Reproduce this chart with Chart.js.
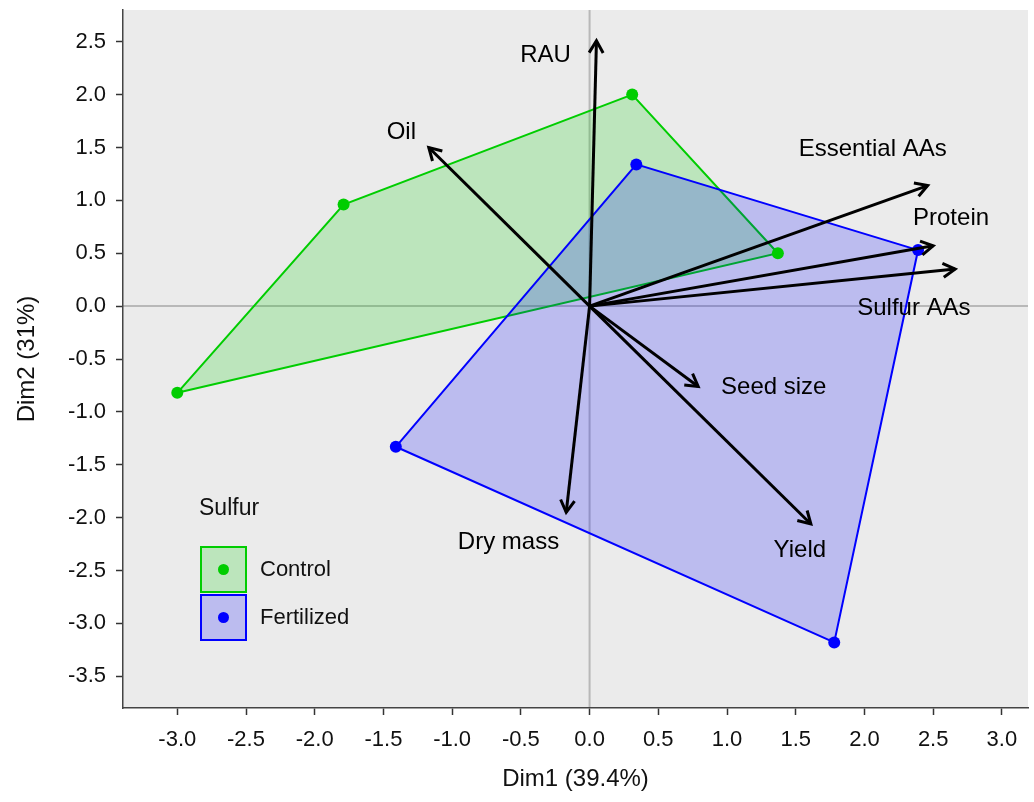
<!DOCTYPE html>
<html><head><meta charset="utf-8">
<script src="https://cdn.jsdelivr.net/npm/chart.js@4.4.1/dist/chart.umd.min.js"></script>
<style>html,body{margin:0;padding:0;background:#fff}#wrap{width:1034px;height:802px}</style>
</head><body><div id="wrap"><canvas id="c" width="1034" height="802"></canvas></div>
<script>
// ---- data ----
const controlX = [-3.00, -1.79, 0.31, 1.37];
const controlY = [-0.82, 0.96, 2.00, 0.50];
const fertX = [-1.41, 0.34, 2.39, 1.78];
const fertY = [-1.33, 1.34, 0.53, -3.18];
const varNames = ['RAU', 'Oil', 'Essential AAs', 'Protein', 'Sulfur AAs', 'Seed size', 'Yield', 'Dry mass'];
const varX = [0.05, -1.17, 2.46, 2.50, 2.66, 0.79, 1.61, -0.17];
const varY = [2.51, 1.50, 1.14, 0.57, 0.35, -0.76, -2.06, -1.95];
const labelX = [-0.32, -1.37, 2.06, 2.63, 2.36, 1.34, 1.53, -0.59];
const labelY = [2.37, 1.64, 1.48, 0.83, -0.02, -0.77, -2.31, -2.23];
const xTicks = [-3.0, -2.5, -2.0, -1.5, -1.0, -0.5, 0.0, 0.5, 1.0, 1.5, 2.0, 2.5, 3.0];
const yTicks = [-3.5, -3.0, -2.5, -2.0, -1.5, -1.0, -0.5, 0.0, 0.5, 1.0, 1.5, 2.0, 2.5];
const groupNames = ['Control', 'Fertilized'];
const legendTitle = 'Sulfur';

const GREEN = '#00CD00', BLUE = '#0000FF';
const GREEN_FILL = 'rgba(0,205,0,0.2)', BLUE_FILL = 'rgba(0,0,255,0.2)';
const FONT = '"Liberation Sans", Arial, Helvetica, sans-serif';
const TXT = '#111';

function pts(xs, ys) { return xs.map((x, i) => ({x: x, y: ys[i]})); }
function closed(xs, ys) { const p = pts(xs, ys); p.push(p[0]); return p; }

const datasets = [
  {type: 'line', label: 'Control hull', data: closed(controlX, controlY), borderColor: GREEN, backgroundColor: GREEN_FILL,
   borderWidth: 2, pointRadius: 0, fill: 'shape', tension: 0, order: 5},
  {type: 'line', label: 'Fertilized hull', data: closed(fertX, fertY), borderColor: BLUE, backgroundColor: BLUE_FILL,
   borderWidth: 2, pointRadius: 0, fill: 'shape', tension: 0, order: 4},
  {type: 'scatter', label: 'Control', data: pts(controlX, controlY), backgroundColor: GREEN, borderWidth: 0, pointRadius: 6, order: 3},
  {type: 'scatter', label: 'Fertilized', data: pts(fertX, fertY), backgroundColor: BLUE, borderWidth: 0, pointRadius: 6, order: 2}
];
varNames.forEach((n, i) => {
  datasets.push({type: 'line', label: n, data: [{x: 0, y: 0}, {x: varX[i], y: varY[i]}], borderColor: '#000',
    borderWidth: 3, pointRadius: 0, fill: false, tension: 0, order: 1, borderCapStyle: 'butt'});
});

const custom = {
  id: 'custom',
  beforeDraw(chart) {
    const {ctx, chartArea: a, scales: {x, y}} = chart;
    ctx.save();
    ctx.fillStyle = '#EBEBEB';
    ctx.fillRect(a.left, a.top, a.right - a.left, a.bottom - a.top);
    ctx.strokeStyle = '#B8B8B8';
    ctx.lineWidth = 2;
    const x0 = x.getPixelForValue(0), y0 = y.getPixelForValue(0);
    ctx.beginPath();
    ctx.moveTo(x0, a.top); ctx.lineTo(x0, a.bottom);
    ctx.moveTo(a.left, y0); ctx.lineTo(a.right, y0);
    ctx.stroke();
    ctx.restore();
  },
  afterDatasetsDraw(chart) {
    const {ctx, scales: {x, y}} = chart;
    ctx.save();
    const ox = x.getPixelForValue(0), oy = y.getPixelForValue(0);
    ctx.strokeStyle = '#000';
    ctx.lineWidth = 3;
    ctx.lineJoin = 'miter';
    ctx.lineCap = 'butt';
    const L = 14, ang = Math.PI / 6;
    varNames.forEach((n, i) => {
      const tx = x.getPixelForValue(varX[i]), ty = y.getPixelForValue(varY[i]);
      const th = Math.atan2(ty - oy, tx - ox);
      ctx.beginPath();
      ctx.moveTo(tx - L * Math.cos(th - ang), ty - L * Math.sin(th - ang));
      ctx.lineTo(tx, ty);
      ctx.lineTo(tx - L * Math.cos(th + ang), ty - L * Math.sin(th + ang));
      ctx.stroke();
    });
    ctx.fillStyle = '#000';
    ctx.font = '24px ' + FONT;
    ctx.textAlign = 'center';
    ctx.textBaseline = 'middle';
    varNames.forEach((n, i) => {
      ctx.fillText(n, x.getPixelForValue(labelX[i]), y.getPixelForValue(labelY[i]));
    });
    // legend
    ctx.textAlign = 'left';
    ctx.fillStyle = TXT;
    ctx.font = '23px ' + FONT;
    ctx.fillText(legendTitle, 199, 509);
    const cols = [GREEN, BLUE], fills = [GREEN_FILL, BLUE_FILL];
    groupNames.forEach((g, i) => {
      const bx = 201, by = 547 + i * 48, bw = 45, bh = 45;
      ctx.fillStyle = fills[i];
      ctx.fillRect(bx, by, bw, bh);
      ctx.strokeStyle = cols[i];
      ctx.lineWidth = 2;
      ctx.strokeRect(bx, by, bw, bh);
      ctx.fillStyle = cols[i];
      ctx.beginPath();
      ctx.arc(bx + bw / 2, by + bh / 2, 5.5, 0, Math.PI * 2);
      ctx.fill();
      ctx.fillStyle = TXT;
      ctx.font = '22px ' + FONT;
      ctx.fillText(g, 260, by + bh / 2);
    });
    ctx.restore();
  }
};

new Chart(document.getElementById('c'), {
  type: 'scatter',
  data: {datasets: datasets},
  options: {
    responsive: false,
    animation: false,
    layout: {padding: {top: 10, right: 0, left: 0, bottom: 0}},
    plugins: {legend: {display: false}, tooltip: {enabled: false}},
    scales: {
      x: {
        type: 'linear', min: -3.395, max: 3.19,
        afterBuildTicks: s => { s.ticks = xTicks.map(v => ({value: v})); },
        afterFit: s => { s.height = 94; s.paddingLeft = 0; s.paddingRight = 0; },
        ticks: {callback: v => Number(v).toFixed(1), font: {family: FONT, size: 22}, color: TXT, padding: 12, autoSkip: false, maxRotation: 0},
        grid: {drawOnChartArea: false, tickLength: 7, tickWidth: 1.5, tickColor: '#333'},
        border: {display: true, color: '#444', width: 1.5},
        title: {display: true, text: 'Dim1 (39.4%)', font: {family: FONT, size: 24}, color: TXT, padding: {top: 8, bottom: 8}}
      },
      y: {
        type: 'linear', min: -3.80, max: 2.80,
        afterBuildTicks: s => { s.ticks = yTicks.map(v => ({value: v})); },
        afterFit: s => { s.width = 123; s.paddingTop = 0; s.paddingBottom = 0; },
        ticks: {callback: v => Number(v).toFixed(1), font: {family: FONT, size: 22}, color: TXT, padding: 10, autoSkip: false},
        grid: {drawOnChartArea: false, tickLength: 7, tickWidth: 1.5, tickColor: '#333'},
        border: {display: true, color: '#444', width: 1.5},
        title: {display: true, text: 'Dim2 (31%)', font: {family: FONT, size: 24}, color: TXT, padding: {top: 13, bottom: 13}}
      }
    }
  },
  plugins: [custom]
});
</script></body></html>
